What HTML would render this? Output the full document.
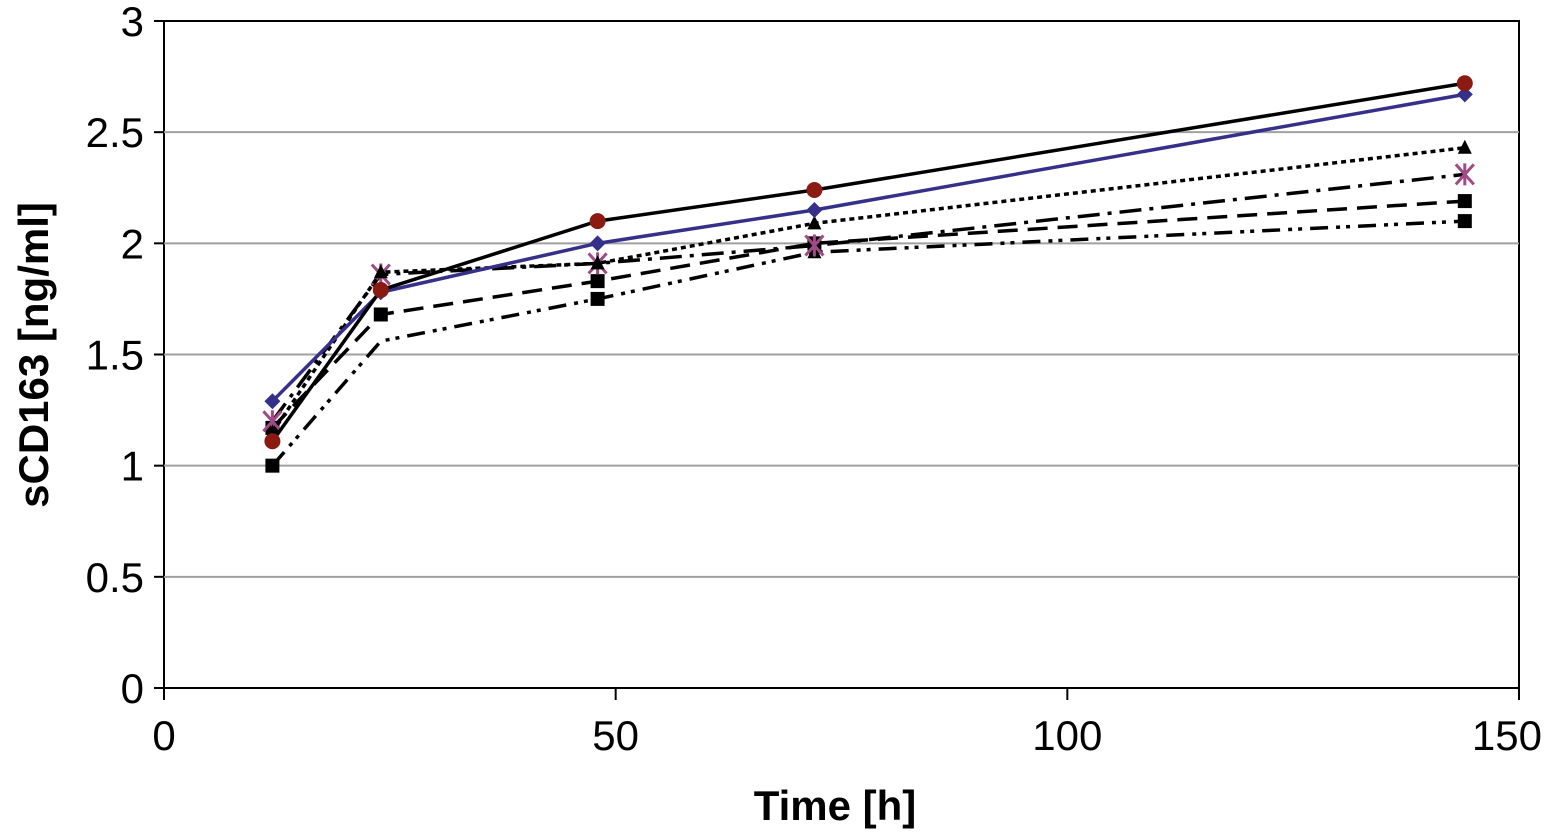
<!DOCTYPE html>
<html><head><meta charset="utf-8"><style>
html,body{margin:0;padding:0;background:#fff;}
svg text{font-family:"Liberation Sans",sans-serif;}
</style></head><body>
<svg id="chart" width="1545" height="833" xmlns="http://www.w3.org/2000/svg"></svg>
<script>
const xValues=[12,24,48,72,144];
const seriesCircle=[1.11,1.79,2.10,2.24,2.72];
const seriesDiamond=[1.29,1.78,2.00,2.15,2.67];
const seriesTriangle=[1.15,1.87,1.91,2.09,2.43];
const seriesAsterisk=[1.20,1.86,1.91,1.99,2.31];
const seriesSquareDashed=[1.17,1.68,1.83,2.00,2.19];
const seriesSquareDashDot=[1.00,1.56,1.75,1.96,2.10];
const yTicks=[0,0.5,1,1.5,2,2.5,3];
const yTickLabels=["0","0.5","1","1.5","2","2.5","3"];
const xTicks=[0,50,100,150];
const xTickLabels=["0","50","100","150"];

const NS="http://www.w3.org/2000/svg";
const svg=document.getElementById('chart');
const X0=164,X1=1519,Y0=688,Y1=21;
const xs=v=>X0+(v-0)/150*(X1-X0);
const ys=v=>Y0-(v-0)/3*(Y0-Y1);
function mk(tag,attrs,parent){const e=document.createElementNS(NS,tag);for(const k in attrs)e.setAttribute(k,attrs[k]);(parent||svg).appendChild(e);return e;}

const frame=mk('rect',{x:X0,y:Y1,width:X1-X0,height:Y0-Y1,fill:'none',stroke:'#000','stroke-width':2});


yTicks.forEach((t,i)=>{
  if(t>0&&t<3){const g=mk('line',{x1:X0,x2:X1,y1:ys(t),y2:ys(t),stroke:'#a0a0a0','stroke-width':2});
  
  }
  const tk=mk('line',{x1:X0-10,x2:X0,y1:ys(t),y2:ys(t),stroke:'#000','stroke-width':2});
  
  
  const tx=mk('text',{x:X0-20,y:ys(t)+15,'text-anchor':'end','font-size':42});
  tx.textContent=yTickLabels[i];
  
  
});
xTicks.forEach((t,i)=>{
  const tk=mk('line',{x1:xs(t),x2:xs(t),y1:Y0,y2:Y0+12,stroke:'#000','stroke-width':2});
  
  
  const last=i===xTicks.length-1;
  const tx=mk('text',{x:last?1542:xs(t),y:Y0+62,'text-anchor':last?'end':'middle','font-size':42});
  tx.textContent=xTickLabels[i];
  
  
});
const xt=mk('text',{x:835,y:820,'text-anchor':'middle','font-size':42,'font-weight':'bold'});
xt.textContent='Time [h]';


const yt=mk('text',{x:0,y:0,'text-anchor':'middle','font-size':42,'font-weight':'bold',transform:'translate(48,355) rotate(-90)'});
yt.textContent='sCD163 [ng/ml]';



function marker(type,x,y,color,name){
  let e;
  if(type==='circle')e=mk('circle',{cx:x,cy:y,r:8,fill:color});
  else if(type==='diamond')e=mk('polygon',{points:`${x},${y-8} ${x+8},${y} ${x},${y+8} ${x-8},${y}`,fill:color});
  else if(type==='triangle')e=mk('polygon',{points:`${x},${y-8} ${x+7},${y+6} ${x-7},${y+6}`,fill:color});
  else if(type==='square')e=mk('rect',{x:x-7,y:y-7,width:14,height:14,fill:color});
  else if(type==='asterisk'){e=mk('path',{d:`M${x-9},${y-10}L${x+9},${y+10}M${x+9},${y-10}L${x-9},${y+10}M${x},${y-11}L${x},${y+11}`,stroke:color,'stroke-width':3,fill:'none'});}
  
  
}
function series(vals,color,dash,width,mtype,mcolor,name,skip){
  const pts=vals.map((v,i)=>xs(xValues[i])+','+ys(v)).join(' ');
  const l=mk('polyline',{points:pts,fill:'none',stroke:color,'stroke-width':width,'stroke-dasharray':dash});
  
  
  vals.forEach((v,i)=>{if(skip&&skip.includes(i))return;marker(typeof mtype==='string'?mtype:mtype[i],xs(xValues[i]),ys(v),mcolor,name+'-marker');});
}
series(seriesSquareDashDot,'#000','18,8,4,6,4,8',3.5,['square','square','square','triangle','square'],'#000','series-dash-dot-dot',[1]);
series(seriesSquareDashed,'#000','20,10',3.5,'square','#000','series-dashed');
series(seriesAsterisk,'#000','22,8,4,8',3.5,'asterisk','#a04a86','series-dash-dot');
series(seriesTriangle,'#000','5,4',3.5,'triangle','#000','series-dotted');
series(seriesDiamond,'#35308a','',3.5,'diamond','#35308a','series-blue-solid');
series(seriesCircle,'#000','',3.5,'circle','#8b1a10','series-black-solid');
</script>
</body></html>
